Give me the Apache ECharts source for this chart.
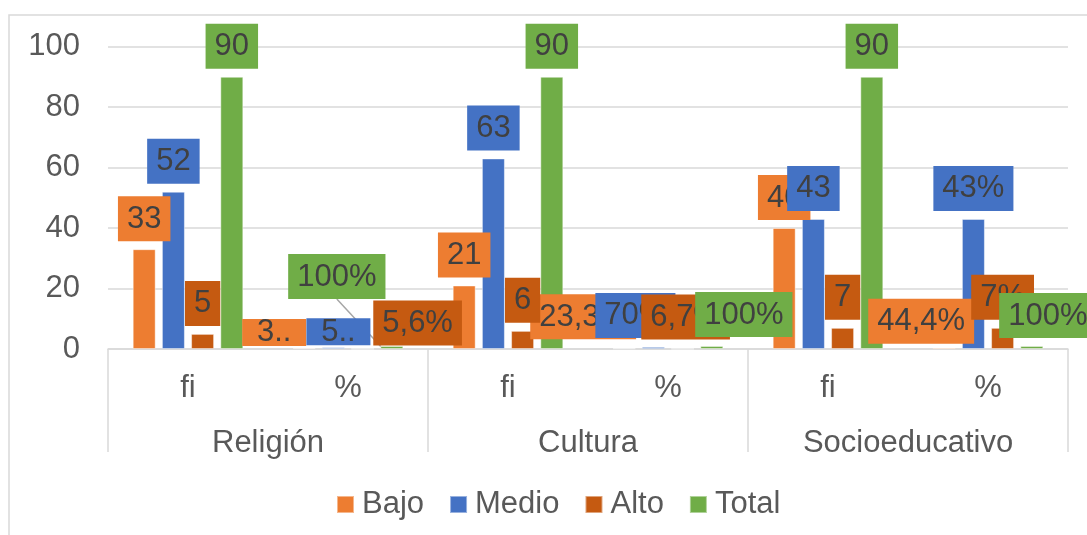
<!DOCTYPE html>
<html>
<head>
<meta charset="utf-8">
<script src="https://cdn.jsdelivr.net/npm/echarts@6/dist/echarts.min.js"></script>
<style>html,body{margin:0;padding:0;background:#fff}#c{width:1087px;height:535px}</style>
</head>
<body>
<div id="c"></div>
<script>
// ---- data ----
const subCategories = ['fi', '%', 'fi', '%', 'fi', '%'];
const groups = ['Religión', 'Cultura', 'Socioeducativo'];
const seriesNames = ['Bajo', 'Medio', 'Alto', 'Total'];
const bajo  = [33, 0.367, 21, 0.233, 40, 0.444];
const medio = [52, 0.578, 63, 0.70, 43, 43];
const alto  = [5, 0.056, 6, 0.067, 7, 7];
const total = [90, 1, 90, 1, 90, 1];
const yTicks = [0, 20, 40, 60, 80, 100];

// ---- style ----
const colors = ['#ED7D31', '#4472C4', '#C55A11', '#70AD47'];
const FONT = 'Liberation Sans, Arial, sans-serif';
const GRID_C = '#d9d9d9';
// label nudges (Excel-style manual label placement), by "series-dataIndex"
const labelNudge = {
  '0-1': [-30, 6], '0-3': [-41, -1], '0-5': [-23, 4],
  '1-1': [5, 6],   '1-3': [-18, -1],
  '2-1': [55, 5],  '2-3': [3, -1],
  '3-1': [-55, -39], '3-3': [32, -1], '3-5': [16, 0]
};
const truncated = {'0-1': true, '1-1': true};
const leader = {'3-1': true};

function fmtLabel(v, idx) {
  if (subCategories[idx] === 'fi') return String(v);
  const p = v <= 1 ? v * 100 : v;
  const r = Math.round(p * 10) / 10;
  return (Number.isInteger(r) ? String(r) : r.toFixed(1).replace('.', ',')) + '%';
}

const allData = [bajo, medio, alto, total];
const series = allData.map((arr, si) => ({
  name: seriesNames[si],
  type: 'bar',
  xAxisIndex: 0,
  barWidth: 23,
  barGap: '27%',
  itemStyle: { color: colors[si], borderColor: 'rgba(255,255,255,0.45)', borderWidth: 1 },
  label: {
    show: true,
    position: 'top',
    distance: 8,
    fontFamily: FONT,
    fontSize: 31,
    color: '#404040',
    backgroundColor: colors[si],
    padding: [5, 9, 4, 9],
    lineHeight: 36,
    formatter: p => fmtLabel(p.value, p.dataIndex)
  },
  labelLine: { show: false, lineStyle: { color: '#a6a6a6', width: 1.5 } },
  labelLayout: p => {
    const n = labelNudge[si + '-' + p.dataIndex];
    return n ? { dx: n[0], dy: n[1] } : {};
  },
  data: arr.map((v, i) => {
    const key = si + '-' + i;
    const item = { value: v };
    if (truncated[key]) {
      item.label = { width: 46, overflow: 'truncate', ellipsis: '..', lineHeight: 26, padding: [1, 9, 0, 9] };
    }
    if (leader[key]) {
      item.labelLine = { show: true, length2: 0, lineStyle: { color: '#a6a6a6', width: 1.5 } };
    }
    return item;
  })
}));

const chart = echarts.init(document.getElementById('c'));
chart.setOption({
  animation: false,
  color: colors,
  graphic: [{
    type: 'rect', silent: true, z: -10,
    shape: { x: 9, y: 15, width: 1100, height: 600 },
    style: { fill: 'none', stroke: GRID_C, lineWidth: 1.5 }
  }],
  grid: { left: 108, right: 19, top: 46.5, bottom: 186 },
  legend: {
    data: seriesNames,
    left: 331, top: 484,
    icon: 'rect', itemWidth: 17, itemHeight: 17, itemGap: 25,
    textStyle: { fontFamily: FONT, fontSize: 31, color: '#595959', padding: [0, 0, 0, 3] }
  },
  xAxis: [{
    type: 'category',
    data: subCategories,
    axisLine: { lineStyle: { color: GRID_C, width: 1.5 } },
    axisTick: { show: false },
    axisLabel: { fontFamily: FONT, fontSize: 31, color: '#595959', margin: 24, interval: 0 }
  }, {
    type: 'category',
    data: groups,
    position: 'bottom',
    axisLine: { show: false },
    axisTick: { show: true, length: 103, interval: 0, lineStyle: { color: GRID_C, width: 1.5 } },
    axisLabel: { fontFamily: FONT, fontSize: 31, color: '#595959', margin: 79, interval: 0 }
  }],
  yAxis: {
    type: 'value',
    min: yTicks[0], max: yTicks[yTicks.length - 1], interval: yTicks[1] - yTicks[0],
    axisLine: { show: false }, axisTick: { show: false },
    splitLine: { lineStyle: { color: GRID_C, width: 1.5 } },
    axisLabel: { fontFamily: FONT, fontSize: 31, color: '#595959', margin: 28 }
  },
  series: series
});
</script>
</body>
</html>
